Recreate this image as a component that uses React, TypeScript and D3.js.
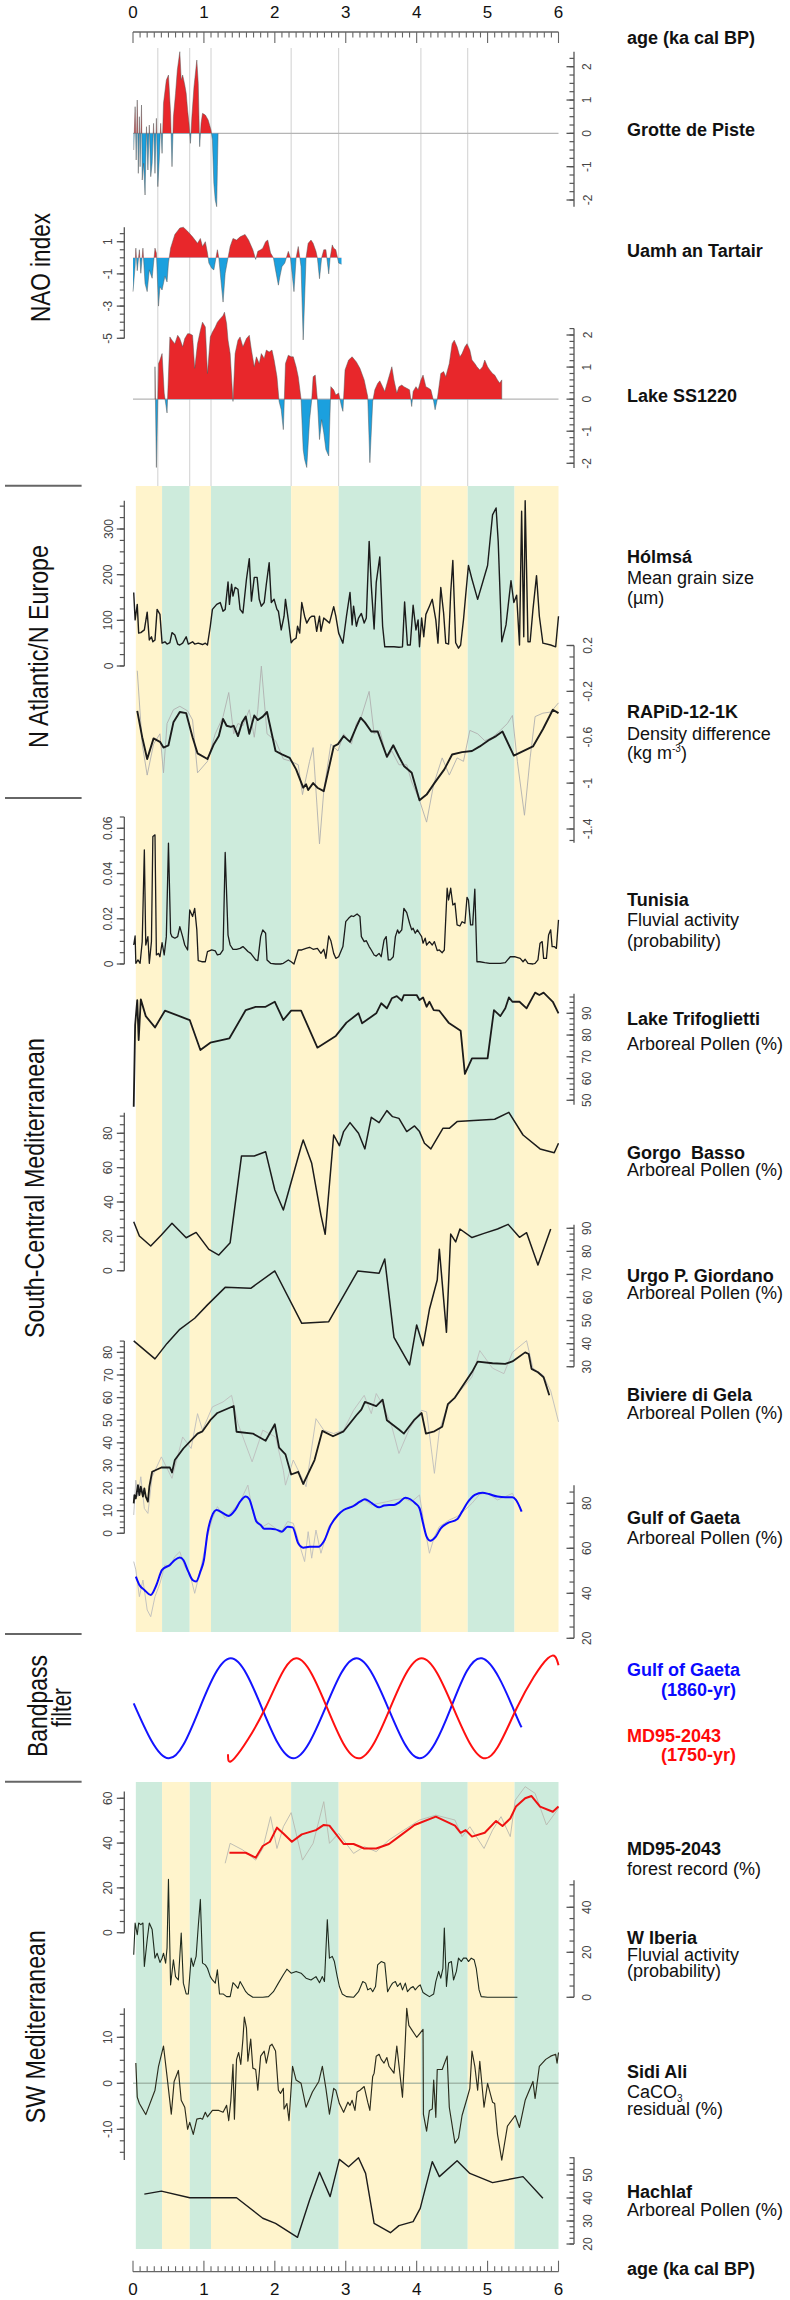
import React from 'react';
import * as d3 from 'd3';

type P = [number, number];

// ---------- shared ----------
const AGE_LABELS = [0, 1, 2, 3, 4, 5, 6];
const BAND_EDGES = [0.04, 0.41, 0.8, 1.1, 2.23, 2.9, 4.06, 4.72, 5.38, 6.0];
const NAO_LINES = [0.35, 0.8, 1.1, 2.23, 2.9, 4.06, 4.72];

// ---------- NAO ----------
const grotte: P[] = [[0.01,-0.5],[0.03,0.8],[0.045,-0.8],[0.06,1.0],[0.075,-1.2],[0.09,0.5],[0.1,-1.0],[0.12,0.85],[0.13,-1.4],[0.15,-0.9],[0.17,-1.85],[0.19,0.2],[0.21,-1.1],[0.23,0.25],[0.25,-1.3],[0.27,-0.9],[0.29,0.3],[0.31,-1.2],[0.33,0.45],[0.35,-1.6],[0.37,-0.8],[0.39,0.3],[0.41,-0.6],[0.43,0.9],[0.47,1.6],[0.5,1.75],[0.53,0.6],[0.55,-1.0],[0.57,0.5],[0.6,1.2],[0.625,1.9],[0.66,2.45],[0.68,1.6],[0.7,1.75],[0.73,1.45],[0.75,1.2],[0.77,0.7],[0.79,0.3],[0.81,-0.3],[0.83,0.5],[0.86,1.4],[0.9,2.2],[0.92,1.5],[0.94,-0.4],[0.96,0.3],[0.98,0.6],[1.02,0.55],[1.06,0.4],[1.1,0.1],[1.12,-0.2],[1.14,-1.5],[1.16,-2.0],[1.18,-2.2],[1.19,-1.0],[1.2,0]];

const uamh: P[] = [[0.0,-2.1],[0.03,-0.5],[0.04,0.6],[0.06,-0.8],[0.09,0.5],[0.11,-0.96],[0.14,0.6],[0.17,-1.6],[0.2,-2.1],[0.23,-0.75],[0.27,-1.27],[0.31,0.6],[0.33,0.3],[0.36,-3.0],[0.38,-1.8],[0.41,-2.0],[0.45,-1.15],[0.48,-1.5],[0.5,-0.33],[0.53,0.6],[0.59,1.45],[0.66,1.85],[0.71,1.9],[0.77,1.65],[0.84,1.3],[0.91,0.9],[0.95,1.2],[0.98,0.7],[1.02,1.0],[1.05,0.3],[1.07,-0.33],[1.11,-0.65],[1.14,-0.75],[1.17,0],[1.19,0.5],[1.21,0],[1.24,-1.4],[1.27,-2.75],[1.3,-0.96],[1.34,0],[1.37,0.7],[1.41,1.2],[1.46,1.1],[1.51,1.3],[1.58,1.45],[1.63,1.1],[1.69,0.5],[1.73,-0.1],[1.76,0.4],[1.8,0.5],[1.83,0.6],[1.87,1.0],[1.9,1.1],[1.94,0.3],[1.98,0],[2.01,-0.75],[2.05,-1.7],[2.07,-1.2],[2.1,-0.55],[2.14,-0.33],[2.19,0.4],[2.22,0],[2.25,-1.27],[2.27,-2.1],[2.3,0],[2.33,0.7],[2.37,-0.55],[2.4,-5.1],[2.44,0],[2.47,0.9],[2.51,1.1],[2.54,0.9],[2.58,0.4],[2.6,0],[2.63,-1.3],[2.66,0],[2.69,0.5],[2.72,0.5],[2.76,-1.0],[2.78,0],[2.81,0.8],[2.83,0.6],[2.86,0.5],[2.9,-0.33],[2.94,-0.4]];

const lakeSS: P[] = [[0.31,0],[0.31,1.01],[0.33,-2.13],[0.36,1.11],[0.38,1.22],[0.41,1.42],[0.44,0.19],[0.48,-0.43],[0.52,1.94],[0.55,1.84],[0.59,1.73],[0.63,1.99],[0.66,1.89],[0.7,1.63],[0.73,1.89],[0.77,2.04],[0.8,2.04],[0.84,1.99],[0.87,0.96],[0.91,1.73],[0.95,2.14],[0.98,2.4],[1.02,2.25],[1.05,0.8],[1.09,1.94],[1.12,2.09],[1.16,2.25],[1.19,2.4],[1.23,2.51],[1.27,2.61],[1.29,2.71],[1.32,2.35],[1.34,1.84],[1.37,1.42],[1.41,-0.07],[1.44,1.42],[1.48,1.84],[1.51,1.94],[1.55,1.63],[1.6,1.89],[1.64,1.99],[1.67,1.53],[1.71,1.01],[1.74,1.32],[1.78,1.11],[1.81,1.42],[1.85,1.27],[1.88,1.53],[1.92,1.47],[1.96,1.53],[1.99,1.22],[2.03,0.7],[2.06,-0.07],[2.09,-0.33],[2.12,-0.95],[2.15,1.11],[2.19,1.37],[2.23,1.32],[2.26,1.32],[2.3,1.01],[2.33,0.7],[2.37,0],[2.4,-1.57],[2.42,-1.88],[2.45,-2.13],[2.49,-0.64],[2.52,-0.02],[2.54,0.7],[2.57,0.75],[2.6,-0.02],[2.63,-1.26],[2.66,-0.64],[2.69,-1.05],[2.72,-1.57],[2.76,-1.77],[2.79,0.39],[2.83,0.29],[2.86,0.13],[2.9,0.19],[2.94,-0.23],[2.96,-0.38],[2.99,0.91],[3.04,1.22],[3.09,1.32],[3.15,1.16],[3.2,0.96],[3.26,0.6],[3.31,0.08],[3.34,-1.98],[3.38,-0.07],[3.41,0.29],[3.45,0.49],[3.48,0.57],[3.52,0.39],[3.55,0.24],[3.59,0.55],[3.65,1.01],[3.68,0.6],[3.72,0.19],[3.75,0.39],[3.79,0.44],[3.82,0.39],[3.86,0.34],[3.9,0.29],[3.93,-0.23],[3.95,0.24],[3.99,0.39],[4.02,0.29],[4.06,0.6],[4.09,0.75],[4.13,0.39],[4.17,0.34],[4.2,0.29],[4.24,-0.07],[4.26,-0.33],[4.29,-0.02],[4.34,0.8],[4.38,0.86],[4.41,0.7],[4.46,1.11],[4.5,1.73],[4.53,1.84],[4.57,1.63],[4.61,1.32],[4.64,1.42],[4.68,1.63],[4.71,1.73],[4.75,1.53],[4.78,1.22],[4.82,1.11],[4.85,1.01],[4.89,0.91],[4.93,1.01],[4.96,1.22],[5.0,1.01],[5.03,0.91],[5.07,0.8],[5.1,0.75],[5.14,0.6],[5.17,0.5],[5.2,0.6],[5.2,0]];

// ---------- N Atlantic ----------
const holmsa: P[] = [[0.01,161],[0.03,101],[0.06,135],[0.08,72],[0.11,73],[0.16,79],[0.2,118],[0.23,57],[0.26,64],[0.28,53],[0.31,57],[0.34,124],[0.38,113],[0.41,50],[0.45,53],[0.48,48],[0.52,51],[0.55,73],[0.59,68],[0.63,48],[0.66,46],[0.7,50],[0.75,64],[0.78,48],[0.84,53],[0.87,48],[0.92,50],[0.98,47],[1.02,50],[1.05,46],[1.09,87],[1.12,124],[1.18,135],[1.23,139],[1.27,120],[1.3,124],[1.34,184],[1.36,135],[1.39,179],[1.41,153],[1.44,172],[1.48,168],[1.51,124],[1.55,116],[1.6,190],[1.64,235],[1.67,142],[1.71,194],[1.75,194],[1.78,146],[1.81,131],[1.85,139],[1.88,179],[1.92,226],[1.95,139],[1.99,146],[2.03,124],[2.05,120],[2.09,79],[2.13,109],[2.15,146],[2.19,101],[2.23,51],[2.26,57],[2.3,61],[2.32,87],[2.35,72],[2.38,139],[2.42,109],[2.45,94],[2.49,105],[2.52,109],[2.56,109],[2.59,76],[2.63,109],[2.65,76],[2.69,105],[2.72,101],[2.77,94],[2.83,130],[2.86,109],[2.9,72],[2.96,50],[3.01,109],[3.06,161],[3.09,90],[3.11,131],[3.15,87],[3.18,105],[3.22,115],[3.26,94],[3.29,105],[3.33,273],[3.36,176],[3.4,81],[3.43,183],[3.48,239],[3.52,87],[3.55,42],[3.61,42],[3.68,42],[3.75,41],[3.8,42],[3.83,140],[3.87,46],[3.91,46],[3.95,133],[3.99,79],[4.02,101],[4.04,42],[4.07,105],[4.1,64],[4.13,113],[4.18,131],[4.22,146],[4.27,101],[4.3,50],[4.34,172],[4.38,116],[4.41,50],[4.45,48],[4.48,161],[4.51,231],[4.55,51],[4.59,39],[4.62,46],[4.66,101],[4.69,153],[4.73,220],[4.78,190],[4.86,146],[4.93,183],[5.0,220],[5.07,331],[5.12,346],[5.15,272],[5.2,53],[5.26,90],[5.33,187],[5.37,139],[5.41,155],[5.45,46],[5.48,339],[5.51,64],[5.53,362],[5.57,53],[5.6,53],[5.64,124],[5.69,198],[5.73,109],[5.78,50],[5.89,46],[5.96,42],[6.0,109]];

const rapidSmooth: P[] = [[0.06,-0.37],[0.13,-0.6],[0.2,-0.79],[0.29,-0.61],[0.38,-0.64],[0.43,-0.69],[0.5,-0.67],[0.57,-0.47],[0.66,-0.38],[0.75,-0.39],[0.84,-0.6],[0.91,-0.74],[1.05,-0.79],[1.14,-0.66],[1.21,-0.59],[1.27,-0.44],[1.32,-0.5],[1.38,-0.51],[1.42,-0.5],[1.48,-0.59],[1.54,-0.47],[1.59,-0.42],[1.64,-0.57],[1.71,-0.41],[1.76,-0.45],[1.83,-0.42],[1.89,-0.38],[2.01,-0.72],[2.1,-0.75],[2.21,-0.78],[2.3,-0.88],[2.4,-1.04],[2.44,-1.01],[2.47,-1.06],[2.54,-1.0],[2.6,-1.04],[2.69,-1.07],[2.83,-0.68],[2.89,-0.66],[2.97,-0.59],[3.06,-0.64],[3.15,-0.51],[3.21,-0.43],[3.27,-0.47],[3.36,-0.55],[3.45,-0.55],[3.58,-0.77],[3.67,-0.67],[3.75,-0.77],[3.82,-0.85],[3.93,-0.91],[4.04,-1.15],[4.14,-1.1],[4.25,-1.0],[4.39,-0.88],[4.5,-0.75],[4.64,-0.73],[4.78,-0.72],[4.89,-0.68],[5.03,-0.62],[5.12,-0.59],[5.21,-0.55],[5.37,-0.76],[5.64,-0.68],[5.78,-0.53],[5.92,-0.36],[6.0,-0.39]];

const rapidRaw: P[] = [[0.06,-0.02],[0.13,-0.66],[0.2,-0.93],[0.29,-0.66],[0.38,-0.57],[0.43,-0.91],[0.48,-0.48],[0.57,-0.36],[0.66,-0.33],[0.77,-0.37],[0.84,-0.45],[0.91,-0.91],[1.05,-0.81],[1.16,-0.57],[1.27,-0.42],[1.35,-0.21],[1.42,-0.57],[1.48,-0.48],[1.55,-0.5],[1.64,-0.36],[1.71,-0.6],[1.76,-0.36],[1.81,0.02],[1.89,-0.57],[2.01,-0.63],[2.12,-0.79],[2.23,-0.81],[2.33,-0.84],[2.39,-1.1],[2.49,-0.81],[2.54,-0.69],[2.63,-1.53],[2.69,-1.07],[2.79,-0.66],[2.89,-0.72],[2.97,-0.57],[3.08,-0.66],[3.15,-0.48],[3.22,-0.42],[3.33,-0.2],[3.4,-0.57],[3.48,-0.54],[3.58,-0.78],[3.65,-0.72],[3.75,-0.84],[3.86,-0.84],[3.93,-0.99],[4.04,-1.15],[4.14,-1.34],[4.24,-1.01],[4.36,-0.78],[4.46,-0.93],[4.57,-0.78],[4.66,-0.81],[4.75,-0.54],[4.86,-0.57],[4.96,-0.63],[5.07,-0.6],[5.18,-0.54],[5.28,-0.48],[5.35,-0.41],[5.42,-0.81],[5.52,-1.28],[5.6,-0.78],[5.67,-0.42],[5.78,-0.39],[5.89,-0.38],[6.0,-0.3]];

// ---------- South-Central Mediterranean ----------
const tunisia: P[] = [[0.01,0.0084],[0.03,0.0124],[0.04,0.0003],[0.07,0.0018],[0.1,0.0003],[0.13,0.0099],[0.16,0.0505],[0.18,0.0084],[0.21,0.0121],[0.23,0.0003],[0.26,0.0099],[0.28,0.0564],[0.31,0.0571],[0.33,0.004],[0.36,0.0047],[0.38,0.0032],[0.41,0.0094],[0.44,0.004],[0.47,0.0121],[0.5,0.0534],[0.53,0.0136],[0.55,0.0121],[0.59,0.0114],[0.63,0.0121],[0.66,0.0165],[0.7,0.0121],[0.73,0.0084],[0.77,0.0062],[0.8,0.0239],[0.84,0.021],[0.87,0.0246],[0.9,0.0151],[0.92,0.0015],[0.97,0.001],[1.02,0.001],[1.05,0.0055],[1.11,0.0062],[1.16,0.0058],[1.19,0.004],[1.23,0.0044],[1.27,0.0062],[1.3,0.0493],[1.34,0.0128],[1.37,0.0084],[1.41,0.0065],[1.46,0.0065],[1.51,0.0069],[1.55,0.0077],[1.59,0.0065],[1.62,0.0055],[1.66,0.0047],[1.69,0.0035],[1.73,0.0018],[1.76,0.0015],[1.8,0.0121],[1.83,0.0151],[1.87,0.0136],[1.89,0.0018],[1.94,0.0003],[2.01,0],[2.08,0],[2.12,0.0003],[2.19,0.0018],[2.23,0.001],[2.27,0],[2.33,0.0062],[2.38,0.0062],[2.44,0.0069],[2.49,0.0074],[2.54,0.0065],[2.6,0.0069],[2.65,0.0047],[2.69,0.0065],[2.72,0.0025],[2.76,0.0124],[2.79,0.0103],[2.83,0.0047],[2.86,0.0025],[2.9,0.0032],[2.96,0.0077],[3.0,0.0187],[3.04,0.0202],[3.08,0.0213],[3.11,0.021],[3.16,0.0221],[3.2,0.021],[3.22,0.0121],[3.26,0.0099],[3.29,0.0103],[3.33,0.0077],[3.36,0.0062],[3.4,0.004],[3.43,0.0035],[3.47,0.0047],[3.5,0.0032],[3.54,0.0106],[3.57,0.0121],[3.6,0.0018],[3.63,0.0018],[3.67,0.0032],[3.7,0.0121],[3.73,0.0151],[3.75,0.0136],[3.79,0.0151],[3.82,0.0246],[3.86,0.0227],[3.9,0.018],[3.93,0.0151],[3.95,0.0158],[3.98,0.0136],[4.01,0.0151],[4.04,0.0136],[4.07,0.0121],[4.09,0.0092],[4.12,0.0114],[4.14,0.0084],[4.18,0.0099],[4.22,0.0084],[4.25,0.0099],[4.29,0.0059],[4.32,0.0062],[4.36,0.005],[4.39,0.0062],[4.43,0.0335],[4.45,0.0283],[4.48,0.0335],[4.51,0.0261],[4.54,0.0269],[4.57,0.0173],[4.61,0.0168],[4.64,0.0187],[4.68,0.018],[4.71,0.0295],[4.73,0.0283],[4.76,0.0173],[4.79,0.0173],[4.82,0.0331],[4.85,0.001],[4.89,0.001],[4.96,0.0006],[5.03,0.0003],[5.1,0.0003],[5.18,0.0003],[5.25,0.0006],[5.32,0.0032],[5.39,0.0032],[5.46,0.0025],[5.5,0.001],[5.53,0.0021],[5.57,0.0003],[5.64,0],[5.67,0.0003],[5.71,0.0018],[5.74,0.0092],[5.77,0.0099],[5.79,0.0025],[5.83,0.0025],[5.86,0.0128],[5.89,0.0151],[5.91,0.0077],[5.94,0.0077],[5.97,0.0069],[6.0,0.0195]];

const trifoglietti: P[] = [[0.01,47],[0.03,84.6],[0.06,96.1],[0.08,77.7],[0.11,96.4],[0.18,88.7],[0.31,83.5],[0.45,91.2],[0.8,86.9],[0.95,73.1],[1.09,76.5],[1.36,78.5],[1.59,91.5],[1.73,93],[1.87,93],[2.0,95.3],[2.12,86.9],[2.23,91.2],[2.37,91.2],[2.6,74.2],[2.86,79.6],[3.01,85.7],[3.18,90],[3.23,85.4],[3.43,90],[3.5,94.6],[3.58,92.3],[3.65,96.9],[3.72,97.9],[3.79,95.8],[3.82,98.4],[4.0,98.4],[4.04,96.1],[4.09,97.3],[4.14,93],[4.18,95.3],[4.24,91.5],[4.32,91.2],[4.45,85.7],[4.62,82],[4.68,62.1],[4.78,69.3],[5.0,69.3],[5.09,91.5],[5.18,88.7],[5.25,92.3],[5.3,97.3],[5.35,95.3],[5.45,95.3],[5.55,92.3],[5.67,99.5],[5.73,98.4],[5.79,99.5],[5.92,95.3],[6.0,90]];

const gorgo: P[] = [[0.01,28.5],[0.09,20.2],[0.25,14.4],[0.4,20.8],[0.55,27.6],[0.75,19.2],[0.89,22.3],[1.07,12.4],[1.21,9.1],[1.37,16.3],[1.53,66.8],[1.71,66.8],[1.87,69.3],[2.0,47],[2.12,35.3],[2.37,72.2],[2.4,76.1],[2.52,62.5],[2.65,32.4],[2.71,21.2],[2.83,79],[2.91,72.8],[2.97,81],[3.06,86.2],[3.18,80],[3.27,70.9],[3.36,89.3],[3.47,86.2],[3.58,93.2],[3.66,89.7],[3.75,88.7],[3.86,81],[3.97,84.3],[4.04,81],[4.11,74.2],[4.2,70.9],[4.37,82.9],[4.46,82.9],[4.57,86.8],[5.1,88.2],[5.3,92.2],[5.5,79],[5.74,70.9],[5.94,68.7],[6.0,74.2]];

const urgo: P[] = [[0.01,41.2],[0.31,33.4],[0.48,40.1],[0.66,46.2],[0.87,51],[1.05,56.8],[1.3,64.4],[1.66,64],[2.0,71.5],[2.38,48.8],[2.76,49.5],[3.17,71.5],[3.47,70.5],[3.55,76.7],[3.68,42.7],[3.9,30.8],[4.0,48.1],[4.09,39.1],[4.18,54.9],[4.29,67.6],[4.32,80.9],[4.42,44.9],[4.48,87.5],[4.55,84.1],[4.61,89.7],[4.78,86],[4.95,87.8],[5.14,89.7],[5.29,91.7],[5.45,86.1],[5.55,88.1],[5.71,74.1],[5.76,78.4],[5.89,89.7]];

const biviere: P[] = [[0.01,13.2],[0.02,16.9],[0.04,15.4],[0.07,21.3],[0.09,16.9],[0.11,20.6],[0.14,16.2],[0.16,19.9],[0.18,16.2],[0.21,14],[0.23,20.6],[0.27,27.2],[0.4,29.1],[0.52,29.1],[0.55,26.9],[0.59,32.4],[0.71,37.5],[0.91,44.1],[0.98,45.1],[1.09,50],[1.19,53.2],[1.42,56.3],[1.46,44.9],[1.69,44.1],[1.87,40.9],[2.0,48.2],[2.06,37.9],[2.15,34.9],[2.23,26],[2.33,27.2],[2.4,21.8],[2.56,32.4],[2.67,45.3],[2.82,42.9],[2.97,45.1],[3.15,52.2],[3.22,54.7],[3.27,58.1],[3.43,56.2],[3.52,59.1],[3.58,50],[3.75,45.9],[3.82,44.1],[3.97,50.3],[4.07,53.2],[4.13,44.1],[4.25,45.1],[4.36,47.1],[4.44,57.1],[4.54,60],[4.78,71.3],[4.86,75.9],[5.07,75.2],[5.25,74.9],[5.35,76],[5.53,80],[5.58,79.3],[5.62,72.7],[5.71,71.2],[5.79,69],[5.87,61]];

const biviereRaw: P[] = [[0.01,8.1],[0.04,23.5],[0.07,16.2],[0.11,25],[0.16,11],[0.21,8.8],[0.27,25],[0.4,33.8],[0.55,24.3],[0.7,42.6],[0.82,37.5],[0.91,52.9],[0.98,45.6],[1.12,55.9],[1.27,58.1],[1.39,61],[1.48,48.5],[1.68,31.6],[1.83,45.6],[2.01,42.6],[2.12,27.9],[2.15,21.3],[2.26,32.4],[2.44,20.6],[2.58,50.7],[2.69,45.6],[2.83,44.1],[2.97,45.6],[3.11,54.4],[3.26,61],[3.36,52.9],[3.43,61.8],[3.54,55.9],[3.65,47.1],[3.75,35.3],[3.9,46.3],[4.07,54.4],[4.14,53.7],[4.25,26.5],[4.32,45.6],[4.43,55.9],[4.54,60.3],[4.78,69.1],[4.89,80.8],[5.07,73],[5.23,70.6],[5.35,80],[5.55,85.2],[5.64,73],[5.78,70],[5.89,63],[6.0,49.3]];

const gaeta: P[] = [[0.04,47.4],[0.09,43.7],[0.16,41.5],[0.25,39.3],[0.33,43.7],[0.41,50.4],[0.52,52.6],[0.59,54.8],[0.66,55.9],[0.71,54.8],[0.78,49.6],[0.84,45.9],[0.89,45.2],[0.95,49.6],[1.0,54.8],[1.05,66.7],[1.11,74.1],[1.18,77],[1.27,75.6],[1.35,74.4],[1.44,77],[1.51,80.7],[1.59,83],[1.64,81.8],[1.69,77],[1.74,71.9],[1.8,70.4],[1.85,68.7],[1.94,68.7],[2.01,68.4],[2.1,67.4],[2.18,69.6],[2.25,69.3],[2.33,62.2],[2.4,60.3],[2.49,60.7],[2.62,60.7],[2.69,63],[2.79,70.4],[2.89,74.8],[2.97,77],[3.11,78.8],[3.2,80.7],[3.27,81.8],[3.34,80.7],[3.4,79.3],[3.47,78.2],[3.54,79],[3.61,79.3],[3.68,79.3],[3.75,80.3],[3.84,82.5],[3.91,81.8],[3.98,80],[4.04,77.8],[4.09,71.1],[4.14,65.2],[4.19,63.4],[4.27,65.2],[4.34,68.9],[4.43,71.1],[4.57,72.9],[4.64,76.3],[4.71,80],[4.82,83.7],[4.93,84.7],[5.02,84.1],[5.14,83],[5.25,82.7],[5.35,82.7],[5.4,81.5],[5.48,76.3]];

const gaetaRaw: P[] = [[0.01,54.1],[0.04,50.4],[0.09,38.5],[0.14,45.9],[0.2,32.6],[0.25,29.6],[0.31,38.5],[0.38,44.4],[0.45,52.6],[0.52,51.9],[0.59,56.3],[0.66,58.5],[0.73,51.9],[0.8,48.9],[0.87,40],[0.95,50.4],[1.05,65.2],[1.12,73.3],[1.19,78.5],[1.3,73.3],[1.41,77],[1.51,80.7],[1.62,88.1],[1.69,75.6],[1.76,71.9],[1.83,69.6],[1.91,71.1],[1.98,69.6],[2.08,66.7],[2.18,71.9],[2.26,71.1],[2.37,59.3],[2.42,54.1],[2.47,67.4],[2.52,55.6],[2.58,68.1],[2.65,57.8],[2.76,69.6],[2.86,74.1],[2.97,77],[3.11,79.3],[3.26,81.5],[3.36,79.3],[3.47,80],[3.58,80.7],[3.68,81.5],[3.82,82.2],[3.93,80.7],[4.04,83.7],[4.11,69.6],[4.18,57.8],[4.25,65.2],[4.32,69.6],[4.46,72.6],[4.57,74.1],[4.68,77],[4.78,80],[4.89,84.1],[5.0,84.4],[5.14,81.5],[5.25,83],[5.35,84.4],[5.42,80]];

// ---------- Bandpass (extrema and zero crossings) ----------
const bandGaeta: P[] = [[0.01,0.1],[0.5,-1],[0.94,0],[1.38,1],[1.82,0],[2.26,-1],[2.71,0],[3.15,1],[3.6,0],[4.04,-1],[4.48,0],[4.92,1],[5.36,0],[5.48,-0.38]];
const bandMD95: P[] = [[1.34,-0.92],[1.43,-1],[1.865,0],[2.3,1],[2.74,0],[3.18,-1],[3.625,0],[4.07,1],[4.52,0],[4.97,-1],[5.41,0],[5.85,1],[6.0,0.86]];

// ---------- SW Mediterranean ----------
const md95: P[] = [[1.36,35.7],[1.59,35.7],[1.73,33.5],[1.83,38.7],[1.93,40.6],[2.03,46.9],[2.12,44.3],[2.24,40.6],[2.38,43.9],[2.58,45.8],[2.69,48.1],[2.77,47.8],[2.97,39.6],[3.11,39.6],[3.26,37.6],[3.43,37.6],[3.61,39.6],[3.75,42.9],[3.97,48.1],[4.27,51.8],[4.54,47.8],[4.62,44.6],[4.69,45.8],[4.78,42.9],[4.96,44.6],[5.12,49.9],[5.21,47.6],[5.32,51],[5.4,56.3],[5.53,60],[5.62,61],[5.74,56.3],[5.92,54],[6.0,56.3]];
const md95Raw: P[] = [[1.3,31],[1.37,39.9],[1.55,36.9],[1.73,32.4],[1.83,37.6],[1.94,51.8],[2.03,37.6],[2.12,47.3],[2.23,53.6],[2.39,32.4],[2.54,39.9],[2.69,58.5],[2.77,39.9],[2.9,44.3],[3.11,35.4],[3.26,38.4],[3.43,36.2],[3.61,41.4],[3.82,45.8],[4.04,50.3],[4.27,52.5],[4.54,50.3],[4.64,42.9],[4.75,47.3],[4.95,37.6],[5.07,45.8],[5.19,51.8],[5.32,42.9],[5.39,59.2],[5.53,65.2],[5.67,62.2],[5.83,48.1],[6.0,55.5]];

const wIberia: P[] = [[0.01,18.9],[0.03,33],[0.06,27.8],[0.08,33],[0.11,32.3],[0.14,33],[0.16,13.7],[0.2,25.6],[0.23,33],[0.27,30.1],[0.31,17.4],[0.34,19.6],[0.38,15.5],[0.41,17.4],[0.43,19.6],[0.46,15.2],[0.48,21.9],[0.5,52.4],[0.53,5.5],[0.57,16.7],[0.6,9.2],[0.64,7.7],[0.68,28.6],[0.71,6.3],[0.75,1.5],[0.78,1.5],[0.82,17.4],[0.85,13.7],[0.89,18.2],[0.92,31.5],[0.95,43.5],[0.98,15.2],[1.02,14.4],[1.05,12.9],[1.09,9.2],[1.12,7.7],[1.16,6.3],[1.19,12.2],[1.22,1.5],[1.27,1.5],[1.32,0.3],[1.37,0.3],[1.41,6.5],[1.44,5.5],[1.48,4],[1.51,7],[1.55,4.8],[1.59,2.5],[1.62,1.5],[1.69,0],[1.83,0],[1.91,0.3],[1.98,2.5],[2.05,6.3],[2.12,10],[2.17,12.5],[2.23,10.7],[2.3,11.5],[2.37,10.7],[2.44,8.5],[2.51,7.7],[2.58,9.2],[2.63,6.5],[2.67,9.2],[2.7,7],[2.74,34.5],[2.77,17.4],[2.81,18.2],[2.84,15.9],[2.88,9.2],[2.91,4.8],[2.95,1.5],[3.01,0.3],[3.11,0],[3.18,2.5],[3.24,7],[3.28,6.3],[3.31,3.3],[3.35,4],[3.38,2.5],[3.42,4.8],[3.45,14.4],[3.5,15.9],[3.55,15.2],[3.59,2.5],[3.63,4.8],[3.66,6.3],[3.7,7],[3.73,4.8],[3.77,6.3],[3.8,3.3],[3.84,6.3],[3.87,2.5],[3.91,4],[3.95,4.8],[3.98,3.3],[4.02,4.8],[4.05,5.5],[4.09,2.1],[4.12,1.5],[4.18,0.3],[4.24,1.5],[4.27,7],[4.31,11.5],[4.34,8.5],[4.37,12.9],[4.39,30.8],[4.42,4.8],[4.45,15.2],[4.49,15.9],[4.52,7.7],[4.56,11.5],[4.59,17.4],[4.63,15.9],[4.66,17.4],[4.7,17.4],[4.73,15.9],[4.77,17.4],[4.81,16.7],[4.84,12.9],[4.88,3.3],[4.91,0.3],[5.0,0],[5.42,0]];

const sidiAli: P[] = [[0.04,4.4],[0.06,-3],[0.09,-4.4],[0.18,-6.8],[0.31,-1.5],[0.36,3.7],[0.43,8.1],[0.48,1.5],[0.54,-6.7],[0.58,0.4],[0.64,2.8],[0.68,-3.7],[0.73,-5.2],[0.77,-10],[0.8,-8.5],[0.85,-11.1],[0.9,-7.8],[0.95,-7.6],[0.98,-7.8],[1.02,-6.3],[1.05,-7.3],[1.12,-5.9],[1.21,-5.9],[1.27,-6.3],[1.32,-4.8],[1.35,-8.1],[1.38,-3.7],[1.41,4.1],[1.43,-7.8],[1.46,5.2],[1.49,6.7],[1.52,4.1],[1.55,9.6],[1.57,14.4],[1.6,12],[1.62,4.8],[1.66,9.6],[1.69,3.3],[1.73,3],[1.76,-1.5],[1.8,5.9],[1.85,7],[1.88,4.4],[1.93,8.1],[1.96,8.5],[2.01,7],[2.05,-1.5],[2.08,-2.2],[2.12,-1.1],[2.13,-5.6],[2.17,-4.4],[2.2,-8.1],[2.25,3.7],[2.3,0.7],[2.37,0],[2.44,-5.2],[2.53,-1.9],[2.62,0.4],[2.67,3.7],[2.72,-1.1],[2.77,-6.7],[2.83,-1.1],[2.86,-1.5],[2.91,-4.4],[2.97,-6.3],[3.03,-4.1],[3.06,-4.8],[3.09,-3.7],[3.13,-5.9],[3.16,-1.9],[3.2,-1.5],[3.26,-0.7],[3.31,-4.1],[3.34,-5.9],[3.38,1.5],[3.4,2.2],[3.43,5.9],[3.47,6.3],[3.5,5.2],[3.54,4.4],[3.58,5.6],[3.61,3.7],[3.68,2.2],[3.72,8.1],[3.8,-3],[3.83,5.9],[3.86,16.3],[3.89,12.6],[4.0,10],[4.09,11.7],[4.095,-6.7],[4.14,-10.4],[4.18,-5.9],[4.22,-5.6],[4.24,0.7],[4.27,-7.4],[4.29,3],[4.36,3],[4.43,5.9],[4.46,-5.2],[4.54,-13],[4.59,-11.9],[4.64,-7],[4.71,-3.3],[4.75,-1.1],[4.78,7],[4.82,3.7],[4.86,-1.5],[4.89,4.8],[4.95,-5.2],[5.0,0],[5.07,-4.1],[5.1,-4.4],[5.14,-11.1],[5.2,-16.7],[5.28,-9.3],[5.39,-7],[5.45,-9.6],[5.53,-3.7],[5.64,0.4],[5.67,-3.3],[5.73,3.7],[5.82,5.2],[5.89,5.9],[5.96,6.3],[5.98,4.4],[6.0,6.7]];

const hachlaf: P[] = [[0.16,41.7],[0.4,43],[0.8,40.1],[1.46,40.1],[1.83,31.2],[2.01,29],[2.32,22.9],[2.49,39.1],[2.63,51.2],[2.78,40.6],[2.91,56.8],[3.04,53.6],[3.18,57.5],[3.28,50.7],[3.4,29],[3.63,24.9],[3.75,28],[3.95,29.7],[4.05,35.5],[4.22,55.8],[4.32,49.3],[4.57,56.2],[4.75,50.7],[5.07,46.7],[5.5,49.3],[5.78,39.9]];

// ---------- layout ----------
const FONT = "'Liberation Sans', Arial, Helvetica, sans-serif";
const W = 790, H = 2300;
const x = d3.scaleLinear().domain([0, 6]).range([133, 558.5]);
const ys = (v1: number, p1: number, v2: number, p2: number) =>
  d3.scaleLinear().domain([v1, v2]).range([p1, p2]);

const LEFT_X = 124.3, RIGHT_X = 574;
const YELLOW = '#fff4cc', GREEN = '#cdebdc';

type AxisSpec = {
  side: 'left' | 'right';
  scale: d3.ScaleLinear<number, number>;
  min: number; max: number;
  labels: [number, string][];
  minor: number;
};

function Axis({ side, scale, min, max, labels, minor }: AxisSpec) {
  const ax = side === 'left' ? LEFT_X : RIGHT_X;
  const lx = side === 'left' ? 108.5 : 587.5;
  const i0 = Math.ceil(min / minor - 1e-6), i1 = Math.floor(max / minor + 1e-6);
  const minors = d3.range(i0, i1 + 1).map(i => i * minor);
  const col = '#555';
  return (
    <g>
      <line x1={ax} x2={ax} y1={scale(max)} y2={scale(min)} stroke={col} strokeWidth={1.3} />
      {minors.map((v, i) => (
        <line key={'m' + i} x1={ax} x2={ax - 4.5} y1={scale(v)} y2={scale(v)} stroke={col} strokeWidth={1.2} />
      ))}
      {labels.map(([v, s], i) => (
        <g key={'l' + i}>
          <line x1={ax} x2={ax - 7.5} y1={scale(v)} y2={scale(v)} stroke={col} strokeWidth={1.3} />
          <text x={lx} y={scale(v)} transform={`rotate(-90 ${lx} ${scale(v)})`} textAnchor="middle"
            dominantBaseline="central" fontSize={12} fill="#444" fontFamily={FONT}>{s}</text>
        </g>
      ))}
    </g>
  );
}

function Series({ data, scale, color, width, curve }: { data: P[]; scale: d3.ScaleLinear<number, number>; color: string; width: number; curve?: d3.CurveFactory }) {
  const gen = d3.line<P>().x(d => x(d[0])).y(d => scale(d[1])).curve(curve || d3.curveLinear);
  return <path d={gen(data) || ''} fill="none" stroke={color} strokeWidth={width} strokeLinejoin="round" />;
}

function NaoPanel({ id, data, scale, zeroFull }: { id: string; data: P[]; scale: d3.ScaleLinear<number, number>; zeroFull: boolean }) {
  const y0 = scale(0);
  const area = d3.area<P>().x(d => x(d[0])).y0(y0).y1(d => scale(d[1]));
  const line = d3.line<P>().x(d => x(d[0])).y(d => scale(d[1]));
  const a = area(data) || '';
  return (
    <g>
      <defs>
        <clipPath id={id + 'up'}><rect x={0} y={0} width={W} height={y0} /></clipPath>
        <clipPath id={id + 'dn'}><rect x={0} y={y0} width={W} height={H - y0} /></clipPath>
      </defs>
      {zeroFull && <line x1={x(0)} x2={x(6)} y1={y0} y2={y0} stroke="#b5b5b5" strokeWidth={1.2} />}
      <path d={a} fill="#e8272b" clipPath={`url(#${id}up)`} />
      <path d={a} fill="#1ba0de" clipPath={`url(#${id}dn)`} />
      <path d={line(data) || ''} fill="none" stroke="#555" strokeWidth={0.6} strokeOpacity={0.8} />
    </g>
  );
}

function Bands({ top, bottom, startYellow }: { top: number; bottom: number; startYellow: boolean }) {
  return (
    <g>
      {d3.range(BAND_EDGES.length - 1).map(i => {
        const yellow = startYellow ? i % 2 === 0 : i % 2 === 1;
        return <rect key={i} x={x(BAND_EDGES[i])} y={top} width={x(BAND_EDGES[i + 1]) - x(BAND_EDGES[i])}
          height={bottom - top} fill={yellow ? YELLOW : GREEN} />;
      })}
    </g>
  );
}

function AgeAxis({ y, labelY }: { y: number; labelY: number; }) {
  const minors = d3.range(0, 61).map(i => i / 10);
  const top = y < 100;
  const dir = top ? 1 : -1;
  return (
    <g>
      <line x1={x(0)} x2={x(6)} y1={y} y2={y} stroke="#666" strokeWidth={1.3} />
      {minors.map((v, i) => {
        const major = i % 10 === 0;
        return <line key={i} x1={x(v)} x2={x(v)} y1={y} y2={y + dir * (major ? 11 : 5.5)} stroke="#666" strokeWidth={1.1} />;
      })}
      {AGE_LABELS.map(v => (
        <text key={v} x={x(v)} y={labelY} textAnchor="middle" fontSize={17} fontFamily={FONT} fill="#111">{v}</text>
      ))}
    </g>
  );
}

function SectionLabel({ x0, cy, len, text }: { x0: number; cy: number; len: number; text: string }) {
  return (
    <text x={x0} y={cy} transform={`rotate(-90 ${x0} ${cy})`} textAnchor="middle" fontSize={27}
      fontFamily={FONT} fill="#111" textLength={len} lengthAdjust="spacingAndGlyphs">{text}</text>
  );
}

function RLabel({ y, children, bold, color, dx }: { y: number; children: React.ReactNode; bold?: boolean; color?: string; dx?: number }) {
  return (
    <text x={627 + (dx || 0)} y={y} fontSize={18} fontFamily={FONT} fontWeight={bold ? 'bold' : 'normal'}
      fill={color || '#111'} style={{ whiteSpace: 'pre' }}>{children}</text>
  );
}

export default function App() {
  // scales
  const sGrotte = ys(2, 66.7, -2, 200);
  const sUamh = ys(1, 241.7, -5, 338.3);
  const sLake = ys(2, 335, -2, 463.3);
  const sHolmsa = ys(0, 666, 300, 529);
  const sRapid = ys(0.2, 645.5, -1.4, 829);
  const sTun = ys(0, 964, 0.06, 828.3);
  const sTri = ys(90, 1013.3, 50, 1100.3);
  const sGorgo = ys(0, 1270.7, 80, 1133.3);
  const sUrgo = ys(90, 1228.3, 30, 1366.7);
  const sBiv = ys(0, 1533.3, 70, 1375);
  const sGaeta = ys(80, 1503.3, 20, 1638.3);
  const sBand = ys(-1, 1758.3, 1, 1658.3);
  const sMd = ys(60, 1798.3, 0, 1932.7);
  const sWib = ys(40, 1907.3, 0, 1997.3);
  const sSidi = ys(0, 2083.3, -10, 2129.3);
  const sHach = ys(50, 2175, 20, 2244);

  const dark = '#1b1b1b';

  return (
    <svg width={W} height={H} viewBox={`0 0 ${W} ${H}`} style={{ position: 'absolute', left: 0, top: 0, display: 'block', background: '#fff' }}>
      <rect x={0} y={0} width={W} height={H} fill="#fff" />

      {/* bands */}
      <Bands top={486} bottom={1632} startYellow={true} />
      <Bands top={1782} bottom={2249} startYellow={false} />

      {/* NAO vertical guides */}
      {NAO_LINES.map((a, i) => (
        <line key={i} x1={x(a)} x2={x(a)} y1={48} y2={486} stroke="#d0d0d0" strokeWidth={1} />
      ))}

      {/* age axes */}
      <AgeAxis y={32} labelY={18} />
      <AgeAxis y={2271.7} labelY={2294.5} />
      <text x={627} y={43.5} fontSize={18} fontWeight="bold" fontFamily={FONT} fill="#111">age (ka cal BP)</text>
      <text x={627} y={2274.5} fontSize={18} fontWeight="bold" fontFamily={FONT} fill="#111">age (ka cal BP)</text>

      {/* section separators and labels */}
      {[485.7, 798, 1634, 1781.7].map((y, i) => (
        <line key={i} x1={5} x2={81.6} y1={y} y2={y} stroke="#666" strokeWidth={2} />
      ))}
      <SectionLabel x0={50} cy={267.5} len={109} text="NAO index" />
      <SectionLabel x0={48} cy={646.5} len={203} text="N Atlantic/N Europe" />
      <SectionLabel x0={44} cy={1188} len={300} text="South-Central Mediterranean" />
      <SectionLabel x0={47} cy={1706} len={102} text="Bandpass" />
      <SectionLabel x0={71} cy={1707.5} len={39} text="filter" />
      <SectionLabel x0={45} cy={2026.7} len={193} text="SW Mediterranean" />

      {/* NAO panels */}
      <NaoPanel id="grotte" data={grotte} scale={sGrotte} zeroFull={true} />
      <Axis side="right" scale={sGrotte} min={-2.2} max={2.45} minor={0.25}
        labels={[[2, '2'], [1, '1'], [0, '0'], [-1, '-1'], [-2, '-2']]} />
      <NaoPanel id="uamh" data={uamh} scale={sUamh} zeroFull={false} />
      <Axis side="left" scale={sUamh} min={-5} max={1.9} minor={0.5}
        labels={[[1, '1'], [-1, '-1'], [-3, '-3'], [-5, '-5']]} />
      <NaoPanel id="lake" data={lakeSS} scale={sLake} zeroFull={true} />
      <Axis side="right" scale={sLake} min={-2.15} max={2.2} minor={0.2}
        labels={[[2, '2'], [1, '1'], [0, '0'], [-1, '-1'], [-2, '-2']]} />

      {/* Holmsa */}
      <Series data={holmsa} scale={sHolmsa} color={dark} width={1.4} />
      <Axis side="left" scale={sHolmsa} min={0} max={362} minor={25}
        labels={[[0, '0'], [100, '100'], [200, '200'], [300, '300']]} />

      {/* RAPiD */}
      <Series data={rapidRaw} scale={sRapid} color="#b0b0b0" width={0.9} />
      <Series data={rapidSmooth} scale={sRapid} color={dark} width={1.9} />
      <Axis side="right" scale={sRapid} min={-1.52} max={0.2} minor={0.1}
        labels={[[0.2, '0.2'], [-0.2, '-0.2'], [-0.6, '-0.6'], [-1, '-1'], [-1.4, '-1.4']]} />

      {/* Tunisia */}
      <Series data={tunisia} scale={sTun} color={dark} width={1.3} />
      <Axis side="left" scale={sTun} min={0} max={0.065} minor={0.005}
        labels={[[0, '0'], [0.02, '0.02'], [0.04, '0.04'], [0.06, '0.06']]} />

      {/* Trifoglietti */}
      <Series data={trifoglietti} scale={sTri} color={dark} width={1.8} />
      <Axis side="right" scale={sTri} min={48} max={99} minor={2.5}
        labels={[[50, '50'], [60, '60'], [70, '70'], [80, '80'], [90, '90']]} />

      {/* Gorgo Basso */}
      <Series data={gorgo} scale={sGorgo} color={dark} width={1.5} />
      <Axis side="left" scale={sGorgo} min={0} max={92} minor={5}
        labels={[[0, '0'], [20, '20'], [40, '40'], [60, '60'], [80, '80']]} />

      {/* Urgo */}
      <Series data={urgo} scale={sUrgo} color={dark} width={1.5} />
      <Axis side="right" scale={sUrgo} min={30} max={91.5} minor={2.5}
        labels={[[30, '30'], [40, '40'], [50, '50'], [60, '60'], [70, '70'], [80, '80'], [90, '90']]} />

      {/* Biviere */}
      <Series data={biviereRaw} scale={sBiv} color="#bdbdbd" width={0.9} />
      <Series data={biviere} scale={sBiv} color={dark} width={1.8} />
      <Axis side="left" scale={sBiv} min={0} max={85} minor={2.5}
        labels={[[0, '0'], [10, '10'], [20, '20'], [30, '30'], [40, '40'], [50, '50'], [60, '60'], [70, '70'], [80, '80']]} />

      {/* Gaeta */}
      <Series data={gaetaRaw} scale={sGaeta} color="#bdbdbd" width={0.9} />
      <Series data={gaeta} scale={sGaeta} color="#0a0aff" width={2} curve={d3.curveMonotoneX} />
      <Axis side="right" scale={sGaeta} min={20} max={88} minor={5}
        labels={[[20, '20'], [40, '40'], [60, '60'], [80, '80']]} />

      {/* Bandpass */}
      <Series data={bandGaeta} scale={sBand} color="#1414ff" width={2} curve={d3.curveNatural} />
      <Series data={bandMD95} scale={sBand} color="#ff1010" width={2} curve={d3.curveNatural} />

      {/* MD95-2043 */}
      <Series data={md95Raw} scale={sMd} color="#b9b9b0" width={0.9} />
      <Series data={md95} scale={sMd} color="#ee1111" width={2} />
      <Axis side="left" scale={sMd} min={0} max={63} minor={5}
        labels={[[0, '0'], [20, '20'], [40, '40'], [60, '60']]} />

      {/* W Iberia */}
      <Series data={wIberia} scale={sWib} color="#1e2a1e" width={1.1} />
      <Axis side="right" scale={sWib} min={0} max={52} minor={5}
        labels={[[0, '0'], [20, '20'], [40, '40']]} />

      {/* Sidi Ali */}
      <line x1={x(0)} x2={x(6)} y1={sSidi(0)} y2={sSidi(0)} stroke="#8fa394" strokeWidth={1.6} strokeOpacity={0.7} />
      <Series data={sidiAli} scale={sSidi} color="#2b2b1c" width={1.15} />
      <Axis side="left" scale={sSidi} min={-16.7} max={16.3} minor={2.5}
        labels={[[-10, '-10'], [0, '0'], [10, '10']]} />

      {/* Hachlaf */}
      <Series data={hachlaf} scale={sHach} color={dark} width={1.4} />
      <Axis side="right" scale={sHach} min={20} max={57.7} minor={2.5}
        labels={[[20, '20'], [30, '30'], [40, '40'], [50, '50']]} />

      {/* right-hand labels */}
      <RLabel y={135.5} bold>Grotte de Piste</RLabel>
      <RLabel y={256.5} bold>Uamh an Tartair</RLabel>
      <RLabel y={401.5} bold>Lake SS1220</RLabel>

      <RLabel y={562.5} bold>Hólmsá</RLabel>
      <RLabel y={583.5}>Mean grain size</RLabel>
      <RLabel y={604}>(µm)</RLabel>

      <RLabel y={718} bold>RAPiD-12-1K</RLabel>
      <RLabel y={739.5}>Density difference</RLabel>
      <RLabel y={759}>(kg m<tspan fontSize={10} dy={-7}>-3</tspan><tspan dy={7}>)</tspan></RLabel>

      <RLabel y={905.5} bold>Tunisia</RLabel>
      <RLabel y={925.5}>Fluvial activity</RLabel>
      <RLabel y={947}>(probability)</RLabel>

      <RLabel y={1025} bold>Lake Trifoglietti</RLabel>
      <RLabel y={1050}>Arboreal Pollen (%)</RLabel>

      <RLabel y={1159} bold>{'Gorgo  Basso'}</RLabel>
      <RLabel y={1176}>Arboreal Pollen (%)</RLabel>

      <RLabel y={1282} bold>Urgo P. Giordano</RLabel>
      <RLabel y={1299}>Arboreal Pollen (%)</RLabel>

      <RLabel y={1401} bold>Biviere di Gela</RLabel>
      <RLabel y={1419}>Arboreal Pollen (%)</RLabel>

      <RLabel y={1524} bold>Gulf of Gaeta</RLabel>
      <RLabel y={1544}>Arboreal Pollen (%)</RLabel>

      <RLabel y={1675.5} bold color="#0a0aff">Gulf of Gaeta</RLabel>
      <RLabel y={1696} bold color="#0a0aff" dx={34}>(1860-yr)</RLabel>
      <RLabel y={1742} bold color="#ff0a0a">MD95-2043</RLabel>
      <RLabel y={1761} bold color="#ff0a0a" dx={34}>(1750-yr)</RLabel>

      <RLabel y={1855} bold>MD95-2043</RLabel>
      <RLabel y={1875}>forest record (%)</RLabel>

      <RLabel y={1944} bold>W Iberia</RLabel>
      <RLabel y={1961}>Fluvial activity</RLabel>
      <RLabel y={1977}>(probability)</RLabel>

      <RLabel y={2078} bold>Sidi Ali</RLabel>
      <RLabel y={2098}>CaCO<tspan fontSize={10} dy={4}>3</tspan></RLabel>
      <RLabel y={2115}>residual (%)</RLabel>

      <RLabel y={2198} bold>Hachlaf</RLabel>
      <RLabel y={2216}>Arboreal Pollen (%)</RLabel>
    </svg>
  );
}
